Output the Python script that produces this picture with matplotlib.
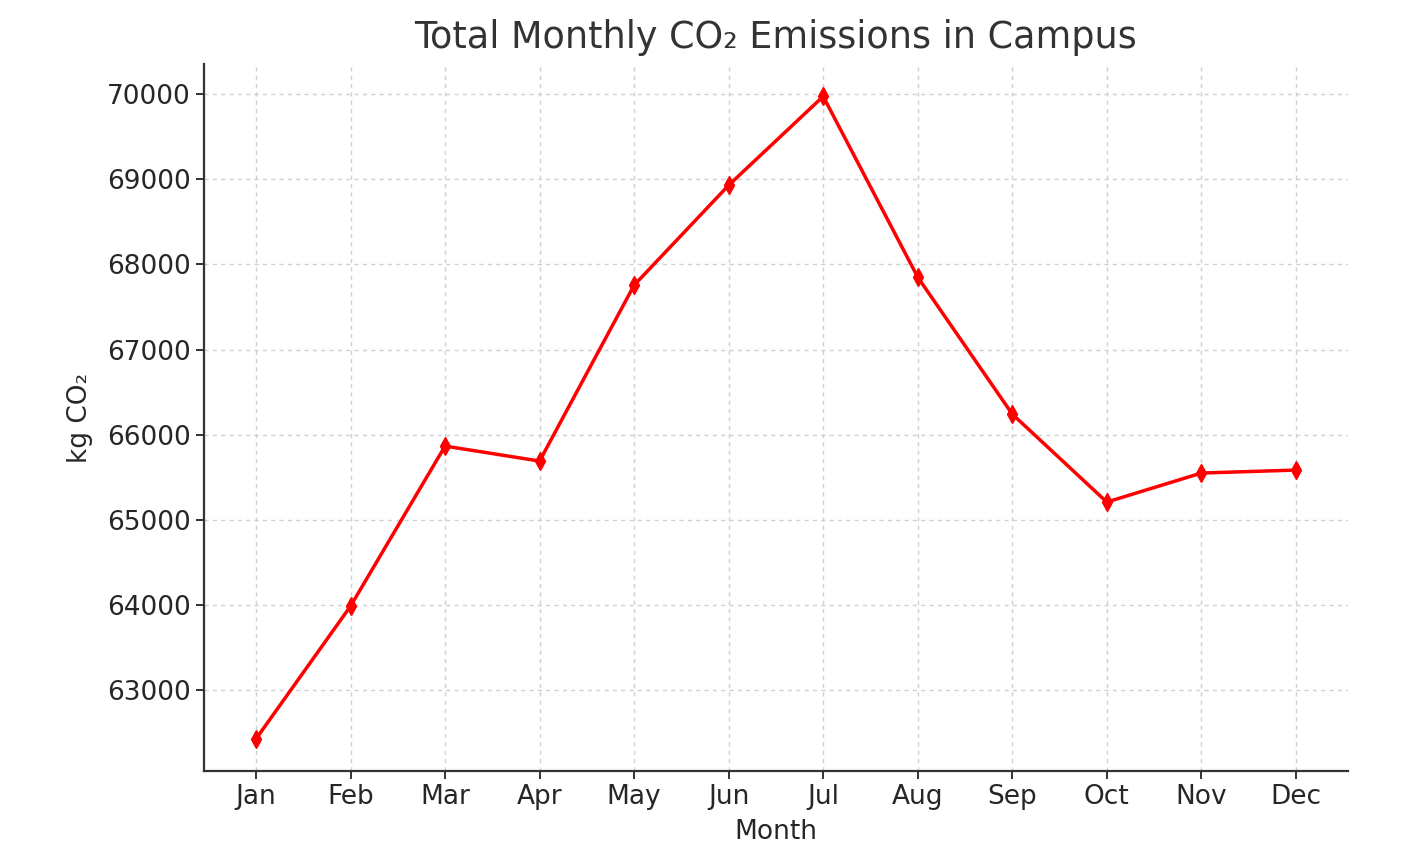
import matplotlib
matplotlib.use("Agg")
import matplotlib.pyplot as plt

months = ["Jan", "Feb", "Mar", "Apr", "May", "Jun", "Jul", "Aug", "Sep", "Oct", "Nov", "Dec"]
emissions = [62425, 63985, 65866, 65690, 67757, 68931, 69975, 67851, 66242, 65208, 65549, 65584]

plt.rcParams['font.family'] = ['DejaVu Sans']
fig = plt.figure(figsize=(14.04, 8.64), dpi=100)
ax = fig.add_axes([0.1453, 0.1076, 0.8147, 0.8180])

ax.plot(months, emissions, color="red", linewidth=2.5, marker="d", markersize=9)
ax.grid(True, linestyle=(0, (3, 3)), color="#d0d0d0", linewidth=1)
ax.set_axisbelow(True)
for s in ["top", "right"]:
    ax.spines[s].set_visible(False)
for s in ["left", "bottom"]:
    ax.spines[s].set_color("#333333")
    ax.spines[s].set_linewidth(1.6)

ax.tick_params(labelsize=19, colors="#333333", length=6, width=1.4, labelcolor="#262626")
ax.set_title("Total Monthly CO₂ Emissions in Campus", fontsize=26.3, color="#333333", pad=12)
ax.set_xlabel("Month", fontsize=19, color="#262626", labelpad=6)
ax.set_ylabel("kg CO₂", fontsize=19, color="#262626", labelpad=10)

fig.savefig("out.png", dpi=100)
